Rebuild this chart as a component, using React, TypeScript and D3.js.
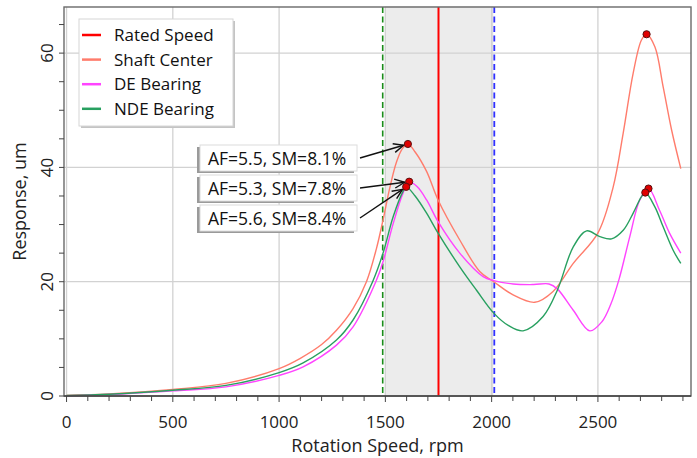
import React from 'react';
import * as d3 from 'd3';

// ---------- data ----------
const shaftRpm = [0, 200, 500, 750, 1000, 1100, 1200, 1270, 1348, 1411, 1458, 1489, 1520, 1552, 1580, 1606, 1640, 1694, 1748, 1850, 1944, 2010, 2101, 2203, 2289, 2384, 2501, 2572, 2619, 2666, 2705, 2729, 2768, 2807, 2847, 2890];
const shaftVal = [0.1, 0.35, 1.15, 2.2, 4.8, 6.6, 9.0, 11.5, 15.3, 20.0, 25.8, 30.8, 36.3, 40.9, 43.3, 44.1, 42.7, 39.3, 34.3, 27.3, 21.8, 20.0, 17.7, 16.4, 18.3, 23.2, 28.6, 36.6, 46.0, 56.5, 62.3, 63.3, 61.1, 54.1, 46.5, 39.8];

const deRpm = [0, 200, 500, 750, 1000, 1113, 1270, 1348, 1455, 1489, 1537, 1583, 1612, 1650, 1694, 1748, 1850, 1960, 2010, 2101, 2198, 2270, 2310, 2384, 2462, 2519, 2560, 2600, 2650, 2697, 2738, 2790, 2837, 2890];
const deVal = [0.05, 0.25, 0.9, 1.6, 3.6, 5.1, 8.9, 12.1, 20.0, 23.5, 30.2, 35.5, 37.5, 36.6, 34.3, 30.5, 25.0, 20.9, 20.2, 19.6, 19.5, 19.6, 18.7, 15.0, 11.4, 13.0, 16.0, 20.5, 27.9, 34.3, 36.3, 32.5, 28.5, 25.0];

const ndeRpm = [0, 200, 500, 750, 1000, 1113, 1270, 1348, 1440, 1489, 1537, 1583, 1598, 1640, 1694, 1748, 1850, 1929, 2010, 2080, 2148, 2242, 2310, 2384, 2447, 2509, 2564, 2619, 2666, 2705, 2723, 2768, 2807, 2854, 2890];
const ndeVal = [0.08, 0.3, 1.0, 1.85, 4.1, 5.8, 9.8, 13.3, 20.0, 25.0, 31.4, 35.8, 36.6, 35.0, 32.0, 28.5, 22.6, 18.5, 14.5, 12.3, 11.4, 13.9, 18.6, 26.1, 28.9, 27.9, 27.5, 29.0, 32.0, 34.9, 35.6, 33.1, 29.6, 25.5, 23.2];

const ratedSpeed = 1750;
const lowerMargin = 1487.5;
const upperMargin = 2012.5;
const bandRange = [1500, 2005];

const legendLabels = ['Rated Speed', 'Shaft Center', 'DE Bearing', 'NDE Bearing'];
const annotationTexts = ['AF=5.5, SM=8.1%', 'AF=5.3, SM=7.8%', 'AF=5.6, SM=8.4%'];

const xMajorTicks = [0, 500, 1000, 1500, 2000, 2500];
const yMajorTicks = [0, 20, 40, 60];

// ---------- styles ----------
const W = 697;
const H = 458;
const M = { left: 64, right: 691, top: 7, bottom: 396 };
const FONT = "'Open Sans', 'Noto Sans', sans-serif";
const C_RATED = '#ff0000';
const C_SHAFT = '#ff7c6c';
const C_DE = '#ff44ff';
const C_NDE = '#28a060';

type P = [number, number];

function zip(a: number[], b: number[]): P[] {
  return a.map((v, i) => [v, b[i]] as P);
}

export default function App() {
  const x = d3.scaleLinear().domain([-12, 2938]).range([M.left, M.right]);
  const y = d3.scaleLinear().domain([0, 68.07]).range([M.bottom, M.top]);
  const line = d3
    .line<P>()
    .x((d) => x(d[0]))
    .y((d) => y(d[1]))
    .curve(d3.curveCatmullRom.alpha(0.5));

  const series = [
    { name: 'Shaft Center', color: C_SHAFT, pts: zip(shaftRpm, shaftVal) },
    { name: 'DE Bearing', color: C_DE, pts: zip(deRpm, deVal) },
    { name: 'NDE Bearing', color: C_NDE, pts: zip(ndeRpm, ndeVal) },
  ];

  const peakIn = (pts: P[], lo: number, hi: number): P => {
    const sub = pts.filter((p) => p[0] >= lo && p[0] <= hi);
    return sub[d3.maxIndex(sub, (p) => p[1])];
  };
  const firstPeaks = series.map((s) => peakIn(s.pts, 1000, 2000));
  const secondPeaks = series.map((s) => peakIn(s.pts, 2500, 3000));

  const xMinor = d3.range(0, 2901, 100);
  const yMinor = d3.range(0, 66, 5);

  const legendColors = [C_RATED, C_SHAFT, C_DE, C_NDE];

  // annotation layout
  const boxX = 200;
  const boxW = 157;
  const boxH = 26;
  const boxYs = [145, 175, 205];

  return (
    <svg
      width={W}
      height={H}
      style={{ position: 'absolute', left: 0, top: 0, background: '#fff' }}
      fontFamily={FONT}
    >
      <rect x={0} y={0} width={W} height={H} fill="#fff" />
      {/* shaded band */}
      <rect
        x={x(bandRange[0])}
        y={M.top}
        width={x(bandRange[1]) - x(bandRange[0])}
        height={M.bottom - M.top}
        fill="#ececec"
        stroke="#dadada"
        strokeWidth={1}
      />
      {/* grid */}
      {xMajorTicks.map((t) => (
        <line key={'gx' + t} x1={x(t)} x2={x(t)} y1={M.top} y2={M.bottom} stroke="#d2d2d2" strokeWidth={1.3} />
      ))}
      {yMajorTicks.map((t) => (
        <line key={'gy' + t} x1={M.left} x2={M.right} y1={y(t)} y2={y(t)} stroke="#d2d2d2" strokeWidth={1.3} />
      ))}
      {/* vertical markers */}
      <line x1={x(lowerMargin)} x2={x(lowerMargin)} y1={M.top} y2={M.bottom} stroke="#1a8c1a" strokeWidth={1.6} strokeDasharray="6,3.5" />
      <line x1={x(upperMargin)} x2={x(upperMargin)} y1={M.top} y2={M.bottom} stroke="#3030ff" strokeWidth={1.8} strokeDasharray="6,3.5" />
      <line x1={x(ratedSpeed)} x2={x(ratedSpeed)} y1={M.top} y2={M.bottom} stroke={C_RATED} strokeWidth={2} />

      {/* curves */}
      {series.map((s) => (
        <path key={s.name} d={line(s.pts) || ''} fill="none" stroke={s.color} strokeWidth={1.4} />
      ))}

      {/* frame */}
      <rect x={M.left} y={M.top} width={M.right - M.left} height={M.bottom - M.top} fill="none" stroke="#6a6a6a" strokeWidth={1.4} />
      <line x1={M.left} x2={M.right} y1={M.bottom} y2={M.bottom} stroke="#444" strokeWidth={1.4} />

      {/* x ticks */}
      {xMinor.map((t) => (
        <line key={'xt' + t} x1={x(t)} x2={x(t)} y1={M.bottom} y2={M.bottom + (t % 500 === 0 ? 6 : 5)} stroke="#444" strokeWidth={1} />
      ))}
      {xMajorTicks.map((t) => (
        <text key={'xl' + t} x={x(t)} y={428} textAnchor="middle" fontSize={17} fill="#222">
          {t}
        </text>
      ))}
      <text x={(M.left + M.right) / 2} y={452} textAnchor="middle" fontSize={18} fill="#222">
        Rotation Speed, rpm
      </text>

      {/* y ticks */}
      {yMinor.map((t) => (
        <line key={'yt' + t} x1={M.left - 5} x2={M.left} y1={y(t)} y2={y(t)} stroke="#444" strokeWidth={1} />
      ))}
      {yMajorTicks.map((t) => (
        <text key={'yl' + t} transform={`translate(53,${y(t)}) rotate(-90)`} textAnchor="middle" fontSize={17} fill="#222">
          {t}
        </text>
      ))}
      <text transform={`translate(26,${(M.top + M.bottom) / 2}) rotate(-90)`} textAnchor="middle" fontSize={18} fill="#222">
        Response, um
      </text>

      {/* annotations */}
      {annotationTexts.map((txt, i) => {
        const by = boxYs[i];
        const pk = firstPeaks[i];
        const px = x(pk[0]);
        const py = y(pk[1]);
        const sx = boxX + boxW + 3;
        const sy = by + boxH / 2;
        const ang = Math.atan2(py - sy, px - sx);
        const tx = px - Math.cos(ang) * 4.5;
        const ty = py - Math.sin(ang) * 4.5;
        const hl = 11;
        const ha = 0.42;
        const h1x = tx - Math.cos(ang - ha) * hl;
        const h1y = ty - Math.sin(ang - ha) * hl;
        const h2x = tx - Math.cos(ang + ha) * hl;
        const h2y = ty - Math.sin(ang + ha) * hl;
        return (
          <g key={'an' + i}>
            <rect x={boxX - 3} y={by + 2} width={boxW} height={boxH} fill="#9a9a9a" />
            <rect x={boxX} y={by} width={boxW} height={boxH} fill="#fff" stroke="#dcdcdc" strokeWidth={1} />
            <text x={boxX + 8} y={by + boxH / 2 + 6.5} fontSize={17.5} fill="#111">
              {txt}
            </text>
            <line x1={sx} y1={sy} x2={tx} y2={ty} stroke="#111" strokeWidth={1.4} />
            <polyline points={`${h1x},${h1y} ${tx},${ty} ${h2x},${h2y}`} fill="none" stroke="#111" strokeWidth={1.4} />
          </g>
        );
      })}

      {/* peak markers */}
      {[...firstPeaks, ...secondPeaks].map((p, i) => (
        <circle key={'pk' + i} cx={x(p[0])} cy={y(p[1])} r={3.6} fill="#e00000" stroke="#5a1010" strokeWidth={1} />
      ))}

      {/* legend */}
      <rect x={81} y={21} width={154} height={107} fill="#c4c4c4" />
      <rect x={79} y={19} width={154} height={107} fill="#fff" stroke="#d6d6d6" strokeWidth={1} />
      {legendLabels.map((lab, i) => {
        const ly = 35 + i * 24.6;
        return (
          <g key={'lg' + i}>
            <line x1={82} x2={101} y1={ly} y2={ly} stroke={legendColors[i]} strokeWidth={2.5} />
            <text x={114} y={ly + 6} fontSize={17} fill="#111">
              {lab}
            </text>
          </g>
        );
      })}
    </svg>
  );
}
